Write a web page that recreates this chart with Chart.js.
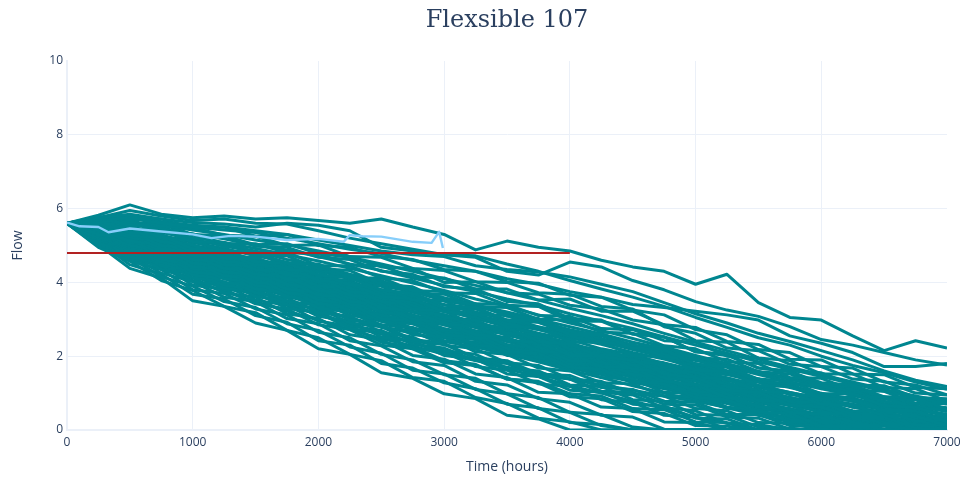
<!DOCTYPE html>
<html>
<head>
<meta charset="utf-8">
<script src="https://cdn.jsdelivr.net/npm/chart.js@4/dist/chart.umd.min.js"></script>
<style>
  html, body { margin: 0; padding: 0; background: #fff; }
  #wrap { width: 966px; height: 483px; }
</style>
</head>
<body>
<div id="wrap"><canvas id="chart" width="966" height="483"></canvas></div>
<script>
const chartTitle = 'Flexsible 107';

// sample times shared by every simulated run
const hours = [0, 250, 500, 750, 1000, 1250, 1500, 1750, 2000, 2250, 2500, 2750, 3000, 3250, 3500,
  3750, 4000, 4250, 4500, 4750, 5000, 5250, 5500, 5750, 6000, 6250, 6500, 6750, 7000];

// simulated flow runs (one row per run)
const flowRuns = [
  [5.6,5.82,6.1,5.85,5.75,5.8,5.72,5.75,5.68,5.6,5.72,5.5,5.3,4.88,5.12,4.95,4.85,4.6,4.42,4.3,3.95,4.22,3.45,3.05,2.98,2.55,2.15,2.42,2.22],
  [5.6,5.75,5.85,5.72,5.62,5.58,5.5,5.6,5.55,5.4,4.95,4.85,4.75,4.68,4.3,4.2,4.55,4.42,4.05,3.8,3.48,3.25,3.08,2.8,2.45,2.3,2.1,1.9,1.76],
  [5.6,5.7,5.75,5.6,5.5,5.42,5.35,5.2,5.05,4.9,4.78,4.6,4.45,4.3,4.1,3.95,3.75,3.6,3.4,3.32,3.22,3.12,2.98,2.55,2.35,2.1,1.72,1.72,1.8],
  [5.6,5.72,5.8,5.65,5.55,5.5,5.4,5.3,5.15,5.0,4.85,4.75,4.7,4.45,4.35,4.28,4.15,3.95,3.75,3.45,3.15,2.9,2.62,2.4,2.15,1.9,1.6,1.35,1.18],
  [5.6,5.75,5.95,5.8,5.68,5.72,5.6,5.58,5.4,5.2,5.05,4.9,4.75,4.72,4.5,4.3,4.05,3.82,3.6,3.35,3.05,2.78,2.5,2.3,2.0,1.75,1.55,1.3,1.1],
  [5.6,5.78,5.7,5.72,5.45,5.5,5.25,5.3,5.0,4.95,4.7,4.62,4.35,4.3,4.02,3.98,3.65,3.6,3.25,3.12,2.72,2.58,2.18,2.1,1.72,1.68,1.3,1.22,0.95],
  [5.6,5.6,5.8,5.52,5.48,5.28,5.25,5.0,5.02,4.7,4.68,4.38,4.32,4.02,4.0,3.72,3.68,3.35,3.28,2.8,2.62,2.22,2.15,1.78,1.72,1.38,1.32,1.0,0.95],
  [5.6,5.75,5.55,5.58,5.3,5.25,5.02,5.05,4.78,4.68,4.42,4.38,4.0,4.02,3.72,3.68,3.38,3.28,2.98,2.85,2.42,2.38,1.95,1.88,1.52,1.52,1.15,1.12,0.78],
  [5.6,5.55,5.65,5.38,5.32,5.05,5.05,4.8,4.78,4.48,4.45,4.15,4.12,3.82,3.82,3.52,3.55,3.22,3.22,2.85,2.78,2.4,2.32,1.92,1.9,1.52,1.5,1.15,1.12],
  [5.6,5.65,5.42,5.42,5.1,5.08,4.82,4.82,4.45,4.45,4.12,4.05,3.72,3.7,3.38,3.35,2.95,2.95,2.6,2.52,2.12,2.02,1.68,1.58,1.28,1.22,0.9,0.88,0.55],
  [5.6,5.48,5.52,5.22,5.12,4.85,4.82,4.52,4.5,4.12,4.12,3.78,3.75,3.42,3.4,3.1,3.08,2.75,2.72,2.42,2.38,2.0,1.95,1.6,1.55,1.22,1.2,0.88,0.85],
  [5.6,5.58,5.35,5.28,4.9,4.88,4.55,4.52,4.2,4.12,3.8,3.7,3.38,3.32,2.98,2.98,2.58,2.58,2.22,2.18,1.78,1.72,1.38,1.32,0.98,0.98,0.65,0.62,0.35],
  [5.6,5.42,5.45,5.1,5.02,4.68,4.68,4.35,4.28,3.92,3.9,3.52,3.5,3.12,3.1,2.78,2.68,2.38,2.32,1.98,1.92,1.6,1.58,1.25,1.22,0.92,0.88,0.58,0.55],
  [5.6,5.55,5.28,5.2,4.82,4.78,4.48,4.42,4.05,3.98,3.62,3.55,3.2,3.15,2.8,2.78,2.38,2.38,2.02,1.98,1.62,1.58,1.2,1.18,0.85,0.82,0.52,0.52,0.22],
  [5.6,5.4,5.38,5.0,4.92,4.55,4.52,4.2,4.12,3.75,3.68,3.28,3.22,2.85,2.78,2.4,2.32,1.98,1.9,1.52,1.42,1.08,1.02,0.68,0.62,0.35,0.35,0.05,0],
  [5.6,5.5,5.22,5.12,4.72,4.68,4.35,4.28,3.9,3.85,3.48,3.38,3.05,2.98,2.62,2.58,2.2,2.18,1.85,1.8,1.42,1.38,1.05,1.0,0.7,0.68,0.38,0.38,0.12],
  [5.6,5.38,5.3,4.92,4.82,4.48,4.45,4.08,4.02,3.65,3.58,3.2,3.12,2.8,2.75,2.4,2.38,2.02,2.02,1.72,1.68,1.35,1.3,0.95,0.95,0.62,0.62,0.32,0.35],
  [5.6,5.45,5.12,5.02,4.62,4.55,4.22,4.15,3.78,3.7,3.32,3.22,2.88,2.8,2.42,2.38,2.02,2.0,1.65,1.58,1.22,1.18,0.8,0.78,0.45,0.45,0.15,0.15,0],
  [5.6,5.3,5.25,4.85,4.72,4.38,4.32,3.95,3.85,3.48,3.4,3.0,2.92,2.58,2.5,2.15,2.08,1.72,1.68,1.32,1.22,0.88,0.82,0.48,0.42,0.12,0.12,0,0],
  [5.6,5.45,5.08,4.98,4.52,4.48,4.12,4.05,3.65,3.6,3.2,3.1,2.72,2.68,2.3,2.25,1.88,1.85,1.5,1.42,1.05,0.98,0.62,0.58,0.22,0.22,0,0,0],
  [5.6,5.3,5.18,4.78,4.62,4.28,4.2,3.82,3.72,3.4,3.32,2.92,2.88,2.5,2.48,2.12,2.08,1.78,1.75,1.4,1.35,1.02,0.98,0.65,0.62,0.3,0.3,0.02,0],
  [5.6,5.38,5.0,4.88,4.42,4.38,4.0,3.92,3.52,3.42,3.02,2.95,2.58,2.5,2.12,2.08,1.7,1.65,1.3,1.25,0.88,0.82,0.48,0.45,0.1,0.1,0,0,0],
  [5.6,5.28,5.12,4.7,4.55,4.18,4.1,3.72,3.62,3.22,3.12,2.75,2.68,2.3,2.22,1.85,1.78,1.42,1.38,1.02,0.98,0.62,0.55,0.22,0.2,0,0,0,0],
  [5.6,5.35,4.95,4.82,4.38,4.3,3.92,3.82,3.42,3.35,2.95,2.88,2.52,2.45,2.1,2.05,1.7,1.65,1.32,1.3,0.95,0.92,0.58,0.55,0.25,0.25,0,0,0],
  [5.6,5.22,5.08,4.62,4.48,4.1,4.02,3.62,3.5,3.1,3.0,2.58,2.52,2.12,2.05,1.68,1.6,1.28,1.25,0.92,0.9,0.58,0.55,0.28,0.25,0,0,0,0],
  [5.6,5.32,4.9,4.75,4.28,4.2,3.82,3.72,3.3,3.2,2.78,2.68,2.3,2.2,1.82,1.75,1.38,1.32,0.98,0.92,0.58,0.52,0.2,0.18,0,0,0,0,0],
  [5.6,5.18,5.02,4.55,4.38,4.0,3.9,3.48,3.38,2.98,2.85,2.45,2.35,1.95,1.85,1.48,1.38,1.02,0.95,0.6,0.52,0.18,0.15,0,0,0,0,0,0],
  [5.6,5.28,4.85,4.68,4.2,4.12,3.72,3.58,3.18,3.08,2.65,2.52,2.15,2.05,1.68,1.6,1.22,1.18,0.82,0.78,0.42,0.4,0.08,0.05,0,0,0,0,0],
  [5.6,5.15,4.95,4.5,4.3,3.92,3.82,3.4,3.3,2.9,2.8,2.4,2.32,1.95,1.88,1.52,1.48,1.15,1.1,0.78,0.75,0.42,0.42,0.12,0.12,0,0,0,0],
  [5.6,5.25,4.78,4.62,4.12,4.02,3.62,3.5,3.08,2.95,2.52,2.4,2.02,1.92,1.52,1.45,1.08,1.02,0.7,0.65,0.32,0.3,0,0,0,0,0,0,0],
  [5.6,5.12,4.9,4.45,4.22,3.85,3.72,3.3,3.18,2.75,2.62,2.2,2.12,1.72,1.62,1.25,1.18,0.82,0.75,0.4,0.35,0.02,0,0,0,0,0,0,0],
  [5.6,5.2,4.7,4.52,4.02,3.92,3.52,3.38,2.95,2.82,2.38,2.25,1.88,1.78,1.38,1.28,0.9,0.85,0.5,0.45,0.12,0.1,0,0,0,0,0,0,0],
  [5.6,5.05,4.82,4.35,4.12,3.72,3.6,3.15,3.02,2.58,2.45,2.02,1.92,1.52,1.42,1.02,0.98,0.62,0.58,0.22,0.2,0,0,0,0,0,0,0,0],
  [5.6,5.15,4.65,4.48,3.92,3.82,3.42,3.28,2.85,2.72,2.3,2.2,1.82,1.75,1.38,1.32,0.98,0.92,0.58,0.55,0.22,0.2,0,0,0,0,0,0,0],
  [5.6,5.02,4.75,4.25,4.02,3.6,3.48,3.02,2.88,2.42,2.28,1.85,1.75,1.32,1.22,0.85,0.75,0.4,0.35,0.02,0,0,0,0,0,0,0,0,0],
  [5.6,5.12,4.58,4.35,3.8,3.7,3.28,3.12,2.65,2.5,2.05,1.9,1.5,1.4,0.98,0.88,0.48,0.42,0.08,0,0,0,0,0,0,0,0,0,0],
  [5.6,4.98,4.68,4.15,3.9,3.48,3.32,2.88,2.7,2.25,2.08,1.62,1.52,1.1,0.98,0.58,0.48,0.12,0,0,0,0,0,0,0,0,0,0,0],
  [5.6,5.1,4.48,4.22,3.68,3.55,3.1,2.92,2.42,2.3,1.8,1.68,1.28,1.12,0.7,0.6,0.2,0.15,0,0,0,0,0,0,0,0,0,0,0],
  [5.6,4.95,4.58,4.05,3.78,3.35,3.18,2.7,2.5,2.05,1.88,1.42,1.32,0.88,0.72,0.32,0.22,0,0,0,0,0,0,0,0,0,0,0,0],
  [5.6,5.02,4.38,4.12,3.5,3.35,2.9,2.7,2.2,2.05,1.55,1.4,0.98,0.85,0.4,0.3,0,0,0,0,0,0,0,0,0,0,0,0,0],
  [5.6,5.55,5.32,5.3,4.9,4.85,4.5,4.45,4.05,3.95,3.55,3.45,3.05,2.95,2.55,2.48,2.08,2.02,1.65,1.58,1.18,1.12,0.75,0.68,0.32,0.3,0,0,0],
  [5.6,5.32,5.2,4.78,4.62,4.3,4.25,3.9,3.82,3.48,3.4,3.05,3.0,2.68,2.62,2.3,2.28,1.95,1.92,1.6,1.58,1.22,1.2,0.85,0.82,0.5,0.52,0.25,0.28],
  [5.6,5.32,4.88,4.72,4.25,4.18,3.8,3.7,3.3,3.22,2.85,2.78,2.42,2.38,2.02,1.98,1.65,1.62,1.3,1.28,0.92,0.9,0.55,0.52,0.2,0.2,0,0,0],
  [5.6,5.4,5.35,4.95,4.85,4.48,4.42,4.05,3.95,3.55,3.48,3.05,2.98,2.58,2.5,2.12,2.02,1.68,1.6,1.22,1.12,0.78,0.7,0.35,0.3,0,0,0,0],
  [5.6,5.65,5.45,5.45,5.08,5.05,4.75,4.72,4.38,4.32,3.95,3.88,3.5,3.42,3.08,3.02,2.65,2.6,2.22,2.15,1.78,1.7,1.32,1.25,0.9,0.88,0.55,0.52,0.22],
  [5.6,5.25,5.12,4.72,4.58,4.2,4.15,3.78,3.7,3.35,3.28,2.9,2.88,2.52,2.5,2.18,2.15,1.82,1.8,1.48,1.45,1.12,1.1,0.78,0.75,0.42,0.42,0.12,0.15],
  [5.6,5.48,5.15,5.02,4.6,4.52,4.18,4.08,3.68,3.58,3.18,3.08,2.68,2.58,2.2,2.1,1.7,1.65,1.28,1.2,0.82,0.78,0.4,0.35,0.02,0,0,0,0],
  [5.6,5.12,4.88,4.42,4.2,3.82,3.72,3.3,3.2,2.82,2.7,2.32,2.22,1.88,1.8,1.45,1.4,1.05,1.02,0.7,0.68,0.35,0.32,0.02,0,0,0,0,0],
  [5.6,5.72,5.58,5.6,5.28,5.28,4.98,4.95,4.68,4.62,4.3,4.22,3.88,3.82,3.48,3.42,3.02,2.98,2.6,2.52,2.12,2.05,1.68,1.6,1.22,1.18,0.85,0.82,0.5],
  [5.6,5.5,5.55,5.22,5.15,4.82,4.8,4.45,4.4,4.08,4.05,3.7,3.68,3.35,3.32,3.0,2.98,2.65,2.62,2.28,2.2,1.85,1.8,1.42,1.4,1.08,1.05,0.72,0.72],
  [5.6,5.55,5.3,5.22,4.85,4.8,4.48,4.45,4.1,4.05,3.7,3.65,3.3,3.28,2.95,2.92,2.6,2.58,2.28,2.25,1.95,1.92,1.58,1.52,1.18,1.15,0.85,0.85,0.55],
  [5.6,5.35,5.22,4.9,4.7,4.5,4.28,4.12,3.85,3.72,3.42,3.3,3.02,2.9,2.62,2.52,2.28,2.18,1.95,1.82,1.62,1.5,1.3,1.18,0.98,0.85,0.68,0.52,0.42],
  [5.6,5.25,5.0,4.72,4.45,4.22,3.98,3.75,3.52,3.3,3.05,2.88,2.62,2.48,2.25,2.08,1.88,1.72,1.55,1.35,1.2,1.0,0.85,0.68,0.5,0.32,0.2,0.05,0],
  [5.6,5.2,4.9,4.55,4.28,3.98,3.75,3.5,3.25,3.05,2.8,2.62,2.4,2.25,2.05,1.92,1.75,1.62,1.48,1.32,1.2,1.05,0.92,0.78,0.62,0.5,0.38,0.22,0.12],
  [5.6,5.1,4.75,4.38,4.05,3.75,3.48,3.22,2.98,2.72,2.48,2.28,2.05,1.88,1.7,1.55,1.38,1.22,1.08,0.92,0.78,0.62,0.48,0.32,0.18,0.05,0,0,0],
  [5.6,5.45,5.3,5.08,4.85,4.62,4.42,4.22,4.0,3.8,3.6,3.42,3.22,3.05,2.88,2.72,2.55,2.38,2.22,2.05,1.88,1.72,1.55,1.38,1.22,1.05,0.9,0.72,0.6],
  [5.6,5.55,5.38,5.2,5.0,4.82,4.62,4.42,4.2,3.98,3.75,3.52,3.28,3.05,2.82,2.58,2.35,2.12,1.9,1.68,1.45,1.22,1.02,0.8,0.62,0.45,0.3,0.15,0.05],
  [5.6,5.62,5.58,5.42,5.22,5.08,4.92,4.75,4.58,4.38,4.18,3.98,3.78,3.55,3.35,3.12,2.9,2.7,2.48,2.25,2.02,1.8,1.58,1.38,1.18,0.98,0.78,0.6,0.42],
  [5.6,5.38,5.05,4.82,4.5,4.32,4.05,3.88,3.6,3.4,3.12,2.95,2.68,2.5,2.25,2.08,1.82,1.65,1.42,1.25,1.02,0.85,0.62,0.45,0.25,0.1,0,0,0],
  [5.6,5.5,5.4,5.25,5.0,4.85,4.6,4.5,4.3,4.12,3.9,3.75,3.5,3.35,3.15,2.95,2.72,2.55,2.3,2.15,1.9,1.72,1.5,1.3,1.12,0.95,0.72,0.58,0.4],
  [5.6,5.42,5.35,5.08,4.88,4.7,4.45,4.32,4.08,3.88,3.68,3.45,3.28,3.02,2.85,2.62,2.45,2.2,2.05,1.8,1.6,1.42,1.2,1.02,0.85,0.62,0.48,0.3,0.15],
  [5.6,5.4,5.2,4.98,4.75,4.5,4.35,4.1,3.92,3.65,3.48,3.2,3.02,2.78,2.6,2.35,2.18,1.92,1.75,1.5,1.32,1.1,0.9,0.68,0.5,0.3,0.15,0,0],
  [5.6,5.62,5.48,5.35,5.18,4.98,4.85,4.62,4.45,4.22,4.02,3.82,3.58,3.38,3.12,2.92,2.7,2.48,2.25,2.05,1.8,1.6,1.38,1.18,0.95,0.78,0.55,0.4,0.22],
  [5.6,5.3,5.1,4.8,4.55,4.3,4.12,3.85,3.6,3.4,3.12,2.92,2.65,2.45,2.2,2.0,1.75,1.55,1.32,1.15,0.9,0.72,0.5,0.32,0.12,0,0,0,0],
  [5.6,5.48,5.32,5.15,4.9,4.72,4.55,4.32,4.15,3.92,3.72,3.52,3.3,3.12,2.9,2.72,2.5,2.32,2.1,1.92,1.7,1.52,1.32,1.15,0.95,0.78,0.6,0.42,0.28],
  [5.6,5.45,5.25,5.05,4.8,4.62,4.38,4.2,3.98,3.75,3.55,3.35,3.1,2.92,2.7,2.5,2.28,2.1,1.88,1.68,1.48,1.28,1.05,0.88,0.68,0.5,0.32,0.18,0.02],
  [5.6,5.35,5.12,4.9,4.62,4.42,4.2,3.95,3.75,3.52,3.28,3.05,2.85,2.62,2.4,2.2,1.98,1.78,1.55,1.38,1.15,0.95,0.75,0.55,0.35,0.18,0.02,0,0],
  [5.6,5.58,5.45,5.28,5.08,4.92,4.72,4.55,4.35,4.18,3.95,3.78,3.58,3.38,3.2,3.0,2.8,2.6,2.38,2.2,1.98,1.78,1.58,1.38,1.2,1.0,0.85,0.65,0.5],
  [5.6,5.25,5.02,4.7,4.45,4.22,3.95,3.72,3.48,3.22,3.0,2.75,2.52,2.3,2.05,1.85,1.62,1.42,1.2,1.0,0.8,0.6,0.4,0.22,0.05,0,0,0,0],
  [5.6,5.45,5.3,5.05,4.85,4.62,4.45,4.25,4.05,3.85,3.65,3.48,3.28,3.1,2.95,2.78,2.6,2.45,2.28,2.1,1.92,1.75,1.58,1.4,1.22,1.05,0.88,0.72,0.55],
  [5.6,5.7,5.6,5.48,5.3,5.18,5.0,4.88,4.7,4.5,4.32,4.12,3.92,3.75,3.55,3.38,3.15,2.95,2.75,2.52,2.3,2.08,1.85,1.65,1.45,1.25,1.05,0.88,0.7],
  [5.6,5.38,5.18,4.95,4.7,4.5,4.28,4.05,3.82,3.6,3.38,3.12,2.9,2.65,2.42,2.18,1.95,1.72,1.5,1.28,1.05,0.85,0.62,0.42,0.22,0.05,0,0,0],
  [5.6,5.22,4.95,4.65,4.35,4.1,3.88,3.62,3.4,3.18,2.95,2.75,2.55,2.35,2.15,1.98,1.8,1.62,1.45,1.28,1.1,0.92,0.75,0.58,0.42,0.25,0.1,0,0],
  [5.6,5.52,5.38,5.2,4.98,4.78,4.6,4.4,4.18,3.95,3.72,3.5,3.25,3.02,2.8,2.55,2.32,2.1,1.85,1.62,1.4,1.18,0.95,0.75,0.55,0.35,0.18,0.02,0],
  [5.6,5.75,5.65,5.55,5.42,5.3,5.15,5.02,4.85,4.68,4.5,4.3,4.1,3.92,3.72,3.52,3.3,3.1,2.88,2.62,2.38,2.15,1.92,1.7,1.5,1.3,1.1,0.92,0.75],
  [5.6,5.18,4.88,4.52,4.22,3.95,3.65,3.42,3.12,2.88,2.6,2.38,2.12,1.9,1.65,1.45,1.2,1.0,0.78,0.58,0.35,0.18,0,0,0,0,0,0,0],
  [5.6,5.45,5.28,5.02,4.82,4.58,4.4,4.18,3.95,3.78,3.52,3.32,3.12,2.88,2.68,2.48,2.25,2.05,1.85,1.65,1.42,1.22,1.02,0.82,0.62,0.45,0.28,0.12,0],
  [5.6,5.5,5.38,5.18,4.95,4.78,4.58,4.4,4.2,4.0,3.8,3.6,3.4,3.2,2.98,2.8,2.58,2.4,2.18,1.98,1.75,1.58,1.38,1.18,1.0,0.8,0.62,0.48,0.32],
  [5.6,5.32,5.1,4.85,4.58,4.35,4.15,3.9,3.68,3.45,3.2,3.0,2.75,2.55,2.32,2.12,1.88,1.7,1.48,1.28,1.05,0.88,0.65,0.48,0.28,0.12,0,0,0],
  [5.6,5.3,5.05,4.78,4.5,4.28,4.05,3.82,3.58,3.35,3.12,2.9,2.7,2.48,2.28,2.08,1.9,1.7,1.52,1.35,1.18,1.0,0.85,0.68,0.52,0.38,0.22,0.1,0],
  [5.6,5.42,5.2,4.95,4.72,4.5,4.28,4.05,3.85,3.62,3.4,3.2,2.98,2.78,2.58,2.38,2.18,2.0,1.8,1.6,1.42,1.25,1.05,0.88,0.7,0.52,0.38,0.22,0.1],
  [5.6,5.28,5.0,4.7,4.42,4.18,3.92,3.68,3.45,3.22,2.98,2.75,2.55,2.32,2.12,1.9,1.72,1.52,1.32,1.15,0.98,0.8,0.62,0.45,0.3,0.15,0,0,0],
  [5.6,5.5,5.3,5.1,4.85,4.65,4.42,4.22,4.0,3.78,3.55,3.35,3.12,2.92,2.7,2.5,2.3,2.1,1.9,1.72,1.52,1.35,1.15,0.98,0.8,0.62,0.45,0.3,0.18],
  [5.6,5.35,5.15,4.88,4.62,4.4,4.18,3.95,3.72,3.5,3.28,3.05,2.85,2.62,2.42,2.22,2.02,1.82,1.62,1.45,1.25,1.08,0.9,0.72,0.55,0.38,0.22,0.08,0],
  [5.6,5.45,5.25,5.02,4.78,4.58,4.35,4.15,3.92,3.72,3.5,3.3,3.08,2.88,2.68,2.48,2.28,2.08,1.9,1.72,1.55,1.38,1.2,1.02,0.85,0.7,0.55,0.4,0.25],
  [5.6,5.25,4.98,4.68,4.4,4.15,3.9,3.65,3.42,3.18,2.95,2.72,2.5,2.3,2.08,1.88,1.68,1.5,1.3,1.12,0.95,0.78,0.6,0.45,0.3,0.15,0.02,0,0],
  [5.6,5.38,5.18,4.92,4.68,4.45,4.22,4.0,3.78,3.55,3.32,3.1,2.9,2.68,2.48,2.28,2.08,1.9,1.7,1.52,1.35,1.18,1.0,0.82,0.65,0.48,0.32,0.18,0.05]
];

// mean run, stopped just before 3000 h
const meanHours = [0, 100, 250, 330, 500, 750, 1000, 1150, 1300, 1500, 1750, 2000, 2200, 2250, 2350, 2500, 2750, 2900, 2960, 2990];
const meanFlow = [5.62, 5.52, 5.5, 5.36, 5.46, 5.38, 5.3, 5.2, 5.26, 5.24, 5.15, 5.18, 5.1, 5.28, 5.25, 5.24, 5.1, 5.07, 5.37, 4.93];

// required flow threshold
const limitHours = [0, 4000];
const limitFlow = [4.8, 4.8];

const xTicks = [0, 1000, 2000, 3000, 4000, 5000, 6000, 7000];
const yTicks = [0, 2, 4, 6, 8, 10];

const ink = '#2a3f5f';
const gridColor = '#ebf0f8';
const runColor = '#008690';

const toPoints = (xs, ys) => ys.map((y, i) => ({ x: xs[i], y }));

const datasets = [
  { data: toPoints(limitHours, limitFlow), borderColor: '#b22222', borderWidth: 2 },
  { data: toPoints(meanHours, meanFlow), borderColor: '#87cefa', borderWidth: 2.4 }
];
flowRuns.forEach(run => {
  datasets.push({ data: toPoints(hours, run), borderColor: runColor, borderWidth: 3 });
});

const titlePlugin = {
  id: 'plotTitle',
  afterDraw(chart) {
    const { ctx, chartArea } = chart;
    ctx.save();
    ctx.font = '24px "DejaVu Serif"';
    ctx.fillStyle = ink;
    ctx.textAlign = 'center';
    ctx.textBaseline = 'middle';
    ctx.fillText(chartTitle, (chartArea.left + chartArea.right) / 2, 21);
    ctx.restore();
  }
};

const edgeGrid = (edge) => (c) => (c.tick && c.tick.value === edge ? 'rgba(0,0,0,0)' : gridColor);
const tickFont = { family: '"Open Sans"', size: 12 };
const titleFont = { family: '"Open Sans"', size: 14 };
const plainLabel = v => String(v);

new Chart(document.getElementById('chart'), {
  type: 'line',
  data: { datasets },
  plugins: [titlePlugin],
  options: {
    responsive: false,
    animation: false,
    devicePixelRatio: 1,
    layout: { padding: { top: 61, right: 19, left: 0, bottom: 0 } },
    plugins: { legend: { display: false }, tooltip: { enabled: false } },
    elements: { point: { radius: 0 }, line: { tension: 0, borderJoinStyle: 'round' } },
    scales: {
      x: {
        type: 'linear', min: 0, max: 7000,
        afterBuildTicks: s => { s.ticks = xTicks.map(v => ({ value: v })); },
        afterFit: s => { s.height = 53; },
        ticks: { color: ink, font: tickFont, padding: 5, maxRotation: 0, callback: plainLabel },
        grid: { color: edgeGrid(7000), drawTicks: false },
        border: { color: gridColor, width: 2 },
        title: { display: true, text: 'Time (hours)', color: ink, font: titleFont, padding: { top: 0, bottom: 8 } }
      },
      y: {
        min: 0, max: 10,
        afterBuildTicks: s => { s.ticks = yTicks.map(v => ({ value: v })); },
        afterFit: s => { s.width = 67; },
        ticks: { color: ink, font: tickFont, padding: 4, callback: plainLabel },
        grid: { color: edgeGrid(10), drawTicks: false },
        border: { color: gridColor, width: 2 },
        title: { display: true, text: 'Flow', color: ink, font: titleFont, padding: { top: 10, bottom: 0 } }
      }
    }
  }
});
</script>
</body>
</html>
